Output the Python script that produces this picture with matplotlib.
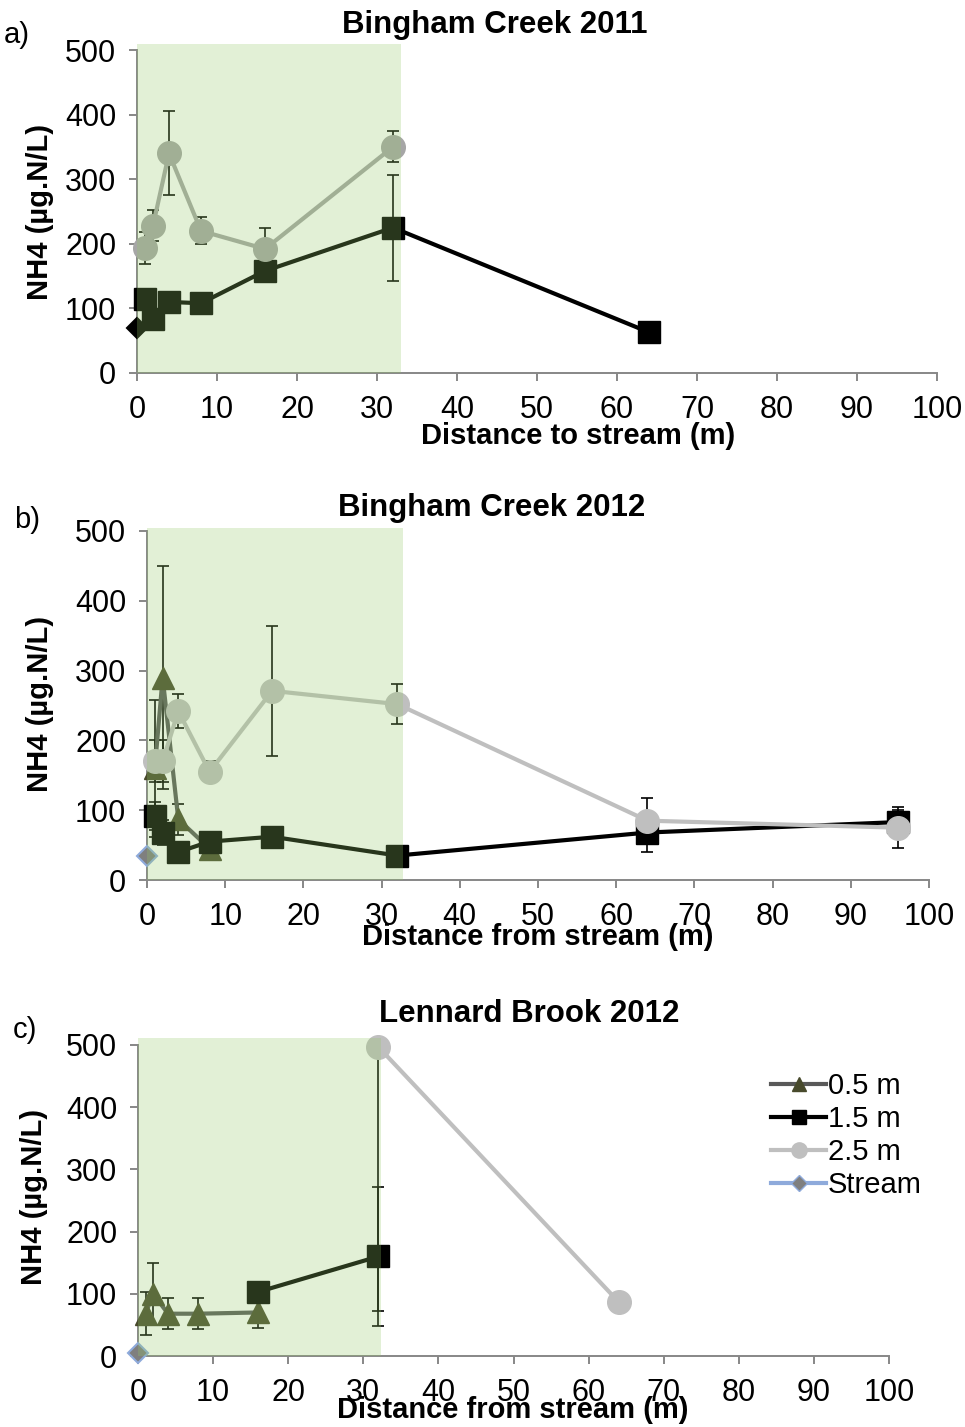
import matplotlib
matplotlib.use("Agg")
import matplotlib.pyplot as plt
from matplotlib.patches import Rectangle
from matplotlib.lines import Line2D

plt.rcParams['font.family'] = ['Liberation Sans', 'DejaVu Sans']

# Bingham Creek 2011
a_dist_15 = [1, 2, 4, 8, 16, 32, 64]
a_nh4_15 = [115, 83, 110, 108, 158, 225, 63]
a_err_15 = [8, 8, 8, 8, 10, 82, 5]
a_dist_25 = [1, 2, 4, 8, 16, 32]
a_nh4_25 = [194, 228, 340, 220, 192, 350]
a_err_25 = [25, 24, 65, 21, 33, 24]
a_stream = 70

# Bingham Creek 2012
b_dist_05 = [1, 2, 4, 8]
b_nh4_05 = [160, 290, 87, 45]
b_err_05 = [98, 160, 22, 5]
b_dist_15 = [1, 2, 4, 8, 16, 32, 64, 96]
b_nh4_15 = [92, 68, 40, 55, 62, 35, 68, 83]
b_err_15 = [20, 18, 8, 10, 8, 5, 28, 18]
b_dist_25 = [1, 2, 4, 8, 16, 32, 64, 96]
b_nh4_25 = [170, 170, 242, 155, 271, 252, 85, 75]
b_err_25 = [30, 30, 24, 15, 93, 29, 32, 29]
b_stream = 35

# Lennard Brook 2012
c_dist_05 = [1, 2, 4, 8, 16]
c_nh4_05 = [68, 100, 68, 68, 70]
c_err_05 = [35, 50, 25, 25, 25]
c_dist_15 = [16, 32]
c_nh4_15 = [103, 160]
c_err_15 = [8, 112]
c_dist_25 = [32, 64]
c_nh4_25 = [497, 87]
c_err_25 = [425, 0]
c_stream = 5

# riparian zone width (m)
zone_width = [33.0, 32.7, 32.4]

W, H = 965, 1427
fig = plt.figure(figsize=(W / 100, H / 100), dpi=100)

FS = 21
TICK_FS = 22
TITLE_FS = 22.5
SPINE = '#878787'
ZONE = '#94c868'
C05_LINE, C05_MK = '#595959', '#484a2c'
C15 = 'black'
C25 = '#bfbfbf'
ST_LINE, ST_MK = '#8eaadb', '#7f7f7f'


def px_axes(l, r, t, b):
    return fig.add_axes([l / W, 1 - b / H, (r - l) / W, (b - t) / H])


def ftext(x, y, s, **kw):
    fig.text(x / W, 1 - y / H, s, ha='center', va='center', **kw)


def style(ax):
    ax.set_xlim(0, 100)
    ax.set_ylim(0, 500)
    ax.set_xticks(range(0, 101, 10))
    ax.set_yticks(range(0, 501, 100))
    for s in ('top', 'right'):
        ax.spines[s].set_visible(False)
    for s in ('left', 'bottom'):
        ax.spines[s].set_color(SPINE)
        ax.spines[s].set_linewidth(1.4)
    ax.tick_params(axis='both', direction='out', length=6, width=1.4,
                   color=SPINE, labelsize=TICK_FS)
    ax.tick_params(axis='x', pad=10)
    ax.tick_params(axis='y', pad=9)


def series(ax, x, y, err, line, mk, marker, ms):
    ax.errorbar(x, y, yerr=err, fmt='none', ecolor='black', elinewidth=1.2,
                capsize=4, capthick=1.2, zorder=2)
    ax.plot(x, y, color=line, lw=3, marker=marker, ms=ms, mfc=mk, mec=mk,
            zorder=3, clip_on=False)


def stream(ax, y, face, edge):
    ax.plot([0], [y], marker='D', ms=10, mfc=face, mec=edge, mew=1.5,
            ls='none', zorder=4, clip_on=False)


def zone(ax, width, top):
    ax.add_patch(Rectangle((0, 0), width, top, facecolor=ZONE,
                           edgecolor='none', alpha=0.27, zorder=10,
                           clip_on=False))


# a) Bingham Creek 2011
ax = px_axes(137, 937, 50, 373)
style(ax)
series(ax, a_dist_15, a_nh4_15, a_err_15, C15, '#000000', 's', 16)
series(ax, a_dist_25, a_nh4_25, a_err_25, '#a6a6a6', '#a6a6a6', 'o', 17)
stream(ax, a_stream, 'black', 'black')
zone(ax, zone_width[0], 509)
ftext(495, 25, 'Bingham Creek 2011', fontsize=TITLE_FS, fontweight='bold')
ftext(578, 436, 'Distance to stream (m)', fontsize=FS, fontweight='bold')
ftext(40, 212, 'NH4 (µg.N/L)', fontsize=FS, fontweight='bold', rotation=90)
ftext(17, 35, 'a)', fontsize=FS)

# b) Bingham Creek 2012
ax = px_axes(147, 929, 531, 880)
style(ax)
series(ax, b_dist_05, b_nh4_05, b_err_05, C05_LINE, C05_MK, '^', 16)
series(ax, b_dist_15, b_nh4_15, b_err_15, C15, '#000000', 's', 16)
series(ax, b_dist_25, b_nh4_25, b_err_25, C25, C25, 'o', 17)
stream(ax, b_stream, ST_MK, ST_LINE)
zone(ax, zone_width[1], 504)
ftext(492, 508, 'Bingham Creek 2012', fontsize=TITLE_FS, fontweight='bold')
ftext(538, 937, 'Distance from stream (m)', fontsize=FS, fontweight='bold')
ftext(40, 704, 'NH4 (µg.N/L)', fontsize=FS, fontweight='bold', rotation=90)
ftext(27, 520, 'b)', fontsize=FS)

# c) Lennard Brook 2012
ax = px_axes(138, 889, 1045, 1356)
style(ax)
series(ax, c_dist_05, c_nh4_05, c_err_05, C05_LINE, C05_MK, '^', 16)
series(ax, c_dist_15, c_nh4_15, c_err_15, C15, '#000000', 's', 16)
series(ax, c_dist_25, c_nh4_25, c_err_25, C25, C25, 'o', 17)
stream(ax, c_stream, ST_MK, ST_LINE)
zone(ax, zone_width[2], 511)
ftext(529, 1014, 'Lennard Brook 2012', fontsize=TITLE_FS, fontweight='bold')
ftext(513, 1410, 'Distance from stream (m)', fontsize=FS, fontweight='bold')
ftext(34, 1197, 'NH4 (µg.N/L)', fontsize=FS, fontweight='bold', rotation=90)
ftext(25, 1030, 'c)', fontsize=FS)

handles = [
    Line2D([], [], color=C05_LINE, lw=3, marker='^', ms=10, mfc=C05_MK, mec=C05_MK),
    Line2D([], [], color=C15, lw=3, marker='s', ms=10, mfc='black', mec='black'),
    Line2D([], [], color=C25, lw=3, marker='o', ms=11, mfc=C25, mec=C25),
    Line2D([], [], color=ST_LINE, lw=3, marker='D', ms=8, mfc=ST_MK, mec=ST_LINE),
]
fig.legend(handles, ['0.5 m', '1.5 m', '2.5 m', 'Stream'], loc='upper left',
           bbox_to_anchor=(771 / W, 1 - 1072 / H), frameon=False, fontsize=FS,
           handlelength=1.9, handletextpad=0.05, labelspacing=0.17,
           borderpad=0, borderaxespad=0)

fig.savefig('out.png', dpi=100)
